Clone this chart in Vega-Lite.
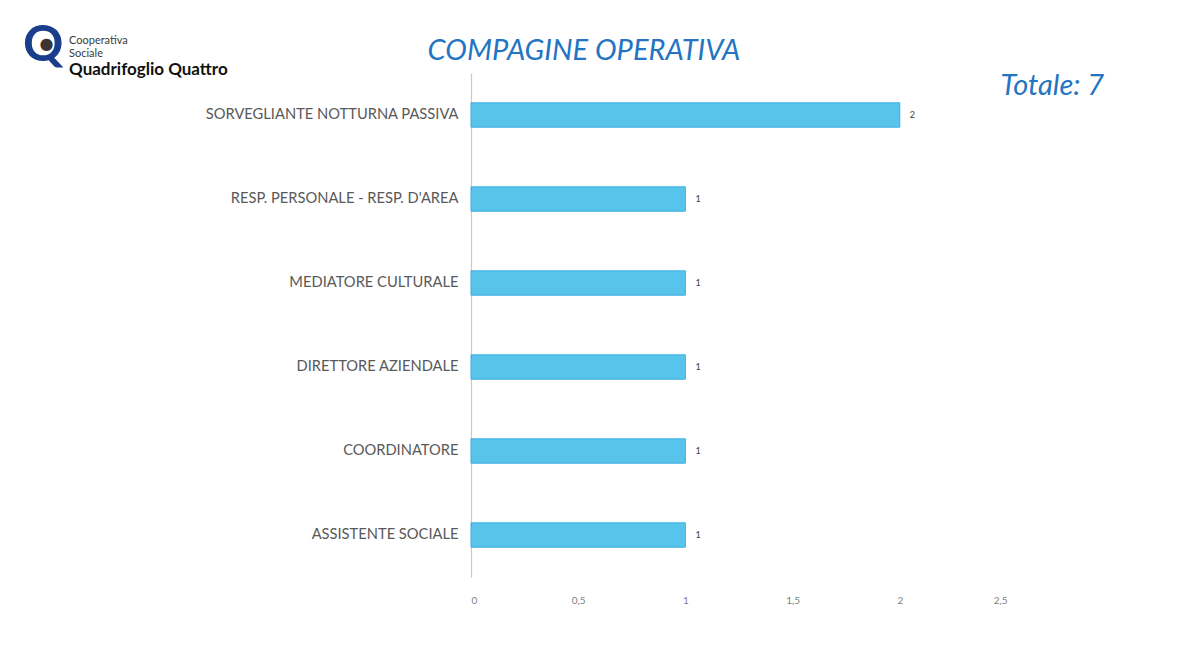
{
  "$schema": "https://vega.github.io/schema/vega-lite/v6.json",
  "autosize": {"type": "none"},
  "padding": {"left": 471, "top": 73, "right": 191, "bottom": 78},
  "width": 536,
  "height": 504,
  "background": "white",
  "config": {"view": {"stroke": null}, "font": "Lato"},
  "datasets": {
    "ruoli": [
      {"ruolo": "SORVEGLIANTE NOTTURNA PASSIVA", "n": 2},
      {"ruolo": "RESP. PERSONALE - RESP. D'AREA", "n": 1},
      {"ruolo": "MEDIATORE CULTURALE", "n": 1},
      {"ruolo": "DIRETTORE AZIENDALE", "n": 1},
      {"ruolo": "COORDINATORE", "n": 1},
      {"ruolo": "ASSISTENTE SOCIALE", "n": 1}
    ],
    "logo": [
      {"testo": "Cooperativa"}
    ]
  },
  "layer": [
    {
      "data": {"name": "ruoli"},
      "mark": {"type": "bar", "fill": "#58c3eb", "stroke": "#3cb0e0", "strokeWidth": 1},
      "encoding": {
        "y": {
          "field": "ruolo",
          "type": "nominal",
          "sort": null,
          "title": null,
          "scale": {"paddingInner": 0.71, "paddingOuter": 0.355},
          "axis": {
            "ticks": false,
            "domainColor": "#c8c8c8",
            "domainWidth": 1.2,
            "labelPadding": 13,
            "labelFontSize": 14.7,
            "labelColor": "#595959",
            "labelFont": "Lato",
            "labelLimit": 400
          }
        },
        "x": {
          "field": "n",
          "type": "quantitative",
          "title": null,
          "scale": {"domain": [0, 2.5], "nice": false},
          "axis": {
            "values": [0, 0.5, 1, 1.5, 2, 2.5],
            "labelExpr": "replace(format(datum.value, '~g'), '.', ',')",
            "grid": false,
            "domain": false,
            "ticks": false,
            "labelPadding": 18,
            "labelFontSize": 10,
            "labelColor": "#7f7f7f",
            "labelFont": "Lato"
          }
        }
      }
    },
    {
      "data": {"name": "ruoli"},
      "mark": {"type": "text", "align": "left", "dx": 10, "fontSize": 9, "color": "#404040"},
      "encoding": {
        "y": {"field": "ruolo", "type": "nominal", "sort": null},
        "x": {"field": "n", "type": "quantitative"},
        "text": {"field": "n", "type": "quantitative"}
      }
    },
    {
      "data": {"name": "logo"},
      "mark": {"type": "text", "text": "COMPAGINE OPERATIVA", "align": "center", "baseline": "alphabetic", "dy": -55, "fontSize": 29, "fontStyle": "italic", "color": "#2474c2", "font": "Lato"},
      "encoding": {
        "x": {"datum": 0.527, "type": "quantitative"},
        "y": {"datum": "SORVEGLIANTE NOTTURNA PASSIVA", "type": "nominal"}
      }
    },
    {
      "data": {"name": "logo"},
      "mark": {"type": "text", "text": "Totale: 7", "align": "left", "baseline": "middle", "dy": -29, "fontSize": 29, "fontStyle": "italic", "color": "#2474c2", "font": "Lato"},
      "encoding": {
        "x": {"datum": 2.47, "type": "quantitative"},
        "y": {"datum": "SORVEGLIANTE NOTTURNA PASSIVA", "type": "nominal"}
      }
    },
    {
      "data": {"name": "logo"},
      "mark": {"type": "text", "text": "Q", "align": "center", "baseline": "middle", "dy": -69, "fontSize": 50, "fontWeight": "bold", "color": "#1b3e8c", "font": "Lato"},
      "encoding": {
        "x": {"datum": -1.995, "type": "quantitative"},
        "y": {"datum": "SORVEGLIANTE NOTTURNA PASSIVA", "type": "nominal"}
      }
    },
    {
      "data": {"name": "logo"},
      "mark": {"type": "text", "text": "●", "align": "center", "baseline": "middle", "dy": -71, "fontSize": 16, "color": "#3b3434", "font": "DejaVu Sans"},
      "encoding": {
        "x": {"datum": -1.98, "type": "quantitative"},
        "y": {"datum": "SORVEGLIANTE NOTTURNA PASSIVA", "type": "nominal"}
      }
    },
    {
      "data": {"name": "logo"},
      "mark": {"type": "text", "align": "left", "baseline": "middle", "dy": -74, "fontSize": 11, "color": "#3a3a3a", "font": "Lato"},
      "encoding": {
        "x": {"datum": -1.875, "type": "quantitative"},
        "y": {"datum": "SORVEGLIANTE NOTTURNA PASSIVA", "type": "nominal"},
        "text": {"field": "testo", "type": "nominal"}
      }
    },
    {
      "data": {"name": "logo"},
      "mark": {"type": "text", "text": "Sociale", "align": "left", "baseline": "middle", "dy": -61, "fontSize": 11, "color": "#3a3a3a", "font": "Lato"},
      "encoding": {
        "x": {"datum": -1.875, "type": "quantitative"},
        "y": {"datum": "SORVEGLIANTE NOTTURNA PASSIVA", "type": "nominal"}
      }
    },
    {
      "data": {"name": "logo"},
      "mark": {"type": "text", "text": "Quadrifoglio Quattro", "align": "left", "baseline": "middle", "dy": -45, "fontSize": 17, "fontWeight": "bold", "color": "#111111", "font": "Lato"},
      "encoding": {
        "x": {"datum": -1.875, "type": "quantitative"},
        "y": {"datum": "SORVEGLIANTE NOTTURNA PASSIVA", "type": "nominal"}
      }
    }
  ]
}
